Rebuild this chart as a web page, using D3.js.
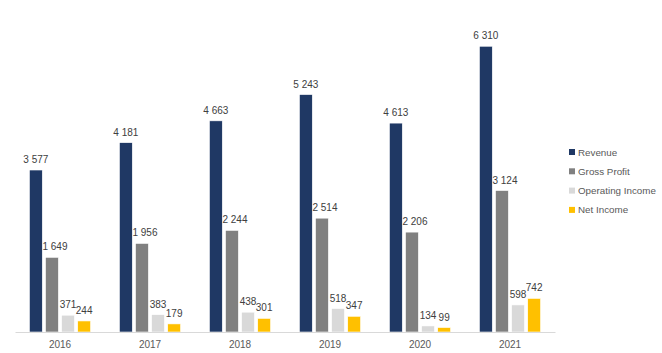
<!DOCTYPE html>
<html>
<head>
<meta charset="utf-8">
<script src="https://cdn.jsdelivr.net/npm/d3@7"></script>
<style>
  body { margin: 0; background: #fff; }
  text { font-family: "Liberation Sans", Arial, sans-serif; }
</style>
</head>
<body>
<div id="cont"></div>
<script>
var years = ["2016", "2017", "2018", "2019", "2020", "2021"];
var seriesNames = ["Revenue", "Gross Profit", "Operating Income", "Net Income"];
var revenue = [3577, 4181, 4663, 5243, 4613, 6310];
var grossProfit = [1649, 1956, 2244, 2514, 2206, 3124];
var operatingIncome = [371, 383, 438, 518, 134, 598];
var netIncome = [244, 179, 301, 347, 99, 742];

var colors = {
  "Revenue": "#1F3864",
  "Gross Profit": "#808080",
  "Operating Income": "#D9D9D9",
  "Net Income": "#FFC000"
};

var allSeries = [revenue, grossProfit, operatingIncome, netIncome];
var rows = [];
for (var i = 0; i < years.length; i++) {
  for (var s = 0; s < seriesNames.length; s++) {
    rows.push({ year: years[i], name: seriesNames[s], value: allSeries[s][i] });
  }
}

var W = 662, H = 353;
var plotLeft = 15, plotRight = 555, plotBase = 332, plotTop = 15;

var fmt = d3.formatLocale({ decimal: ".", thousands: "\u00a0", grouping: [3], currency: ["", ""] }).format(",d");

var svg = d3.select("#cont").append("svg")
  .attr("width", W).attr("height", H);

var x0 = d3.scaleBand().domain(years).range([plotLeft, plotRight]).paddingInner(0.32).paddingOuter(0.16);
var x1 = d3.scaleBand().domain(seriesNames).range([0, x0.bandwidth()]).paddingInner(0.2);
var y = d3.scaleLinear().domain([0, 7000]).range([plotBase, plotTop]);

// bars
svg.selectAll("rect.bar")
  .data(rows)
  .enter()
  .append("rect")
  .attr("class", "bar")
  .attr("x", function(d) { return x0(d.year) + x1(d.name); })
  .attr("y", function(d) { return y(d.value); })
  .attr("width", x1.bandwidth())
  .attr("height", function(d) { return plotBase - y(d.value); })
  .style("fill", function(d) { return colors[d.name]; })
  .style("stroke", "#ffffff")
  .style("stroke-width", 0.6);

// value labels (Gross Profit labels nudged right like Excel does)
svg.selectAll("text.lbl")
  .data(rows)
  .enter()
  .append("text")
  .attr("class", "lbl")
  .attr("x", function(d) {
    var cx = x0(d.year) + x1(d.name) + x1.bandwidth() / 2;
    return d.name == "Gross Profit" ? cx + 3 : cx;
  })
  .attr("y", function(d) { return y(d.value) - 7; })
  .attr("text-anchor", "middle")
  .attr("font-size", 10)
  .attr("fill", "#404040")
  .text(function(d) { return fmt(d.value); });

// x axis
var xAxis = svg.append("g")
  .attr("transform", "translate(0," + plotBase + ")")
  .call(d3.axisBottom(x0).tickSize(0).tickPadding(9));
xAxis.select(".domain").attr("stroke", "#D9D9D9");
xAxis.selectAll("text").attr("font-size", 10).attr("fill", "#595959")
  .style("font-family", "'Liberation Sans', Arial, sans-serif");

// legend
var legend = svg.selectAll("g.leg")
  .data(seriesNames)
  .enter()
  .append("g")
  .attr("class", "leg")
  .attr("transform", function(d, i) { return "translate(569," + (149 + i * 19.3) + ")"; });

legend.append("rect")
  .attr("width", 6).attr("height", 6)
  .style("fill", function(d) { return colors[d]; });

legend.append("text")
  .attr("x", 9).attr("y", 6.5)
  .attr("font-size", 9.8)
  .attr("fill", "#595959")
  .text(function(d) { return d; });
</script>
</body>
</html>
